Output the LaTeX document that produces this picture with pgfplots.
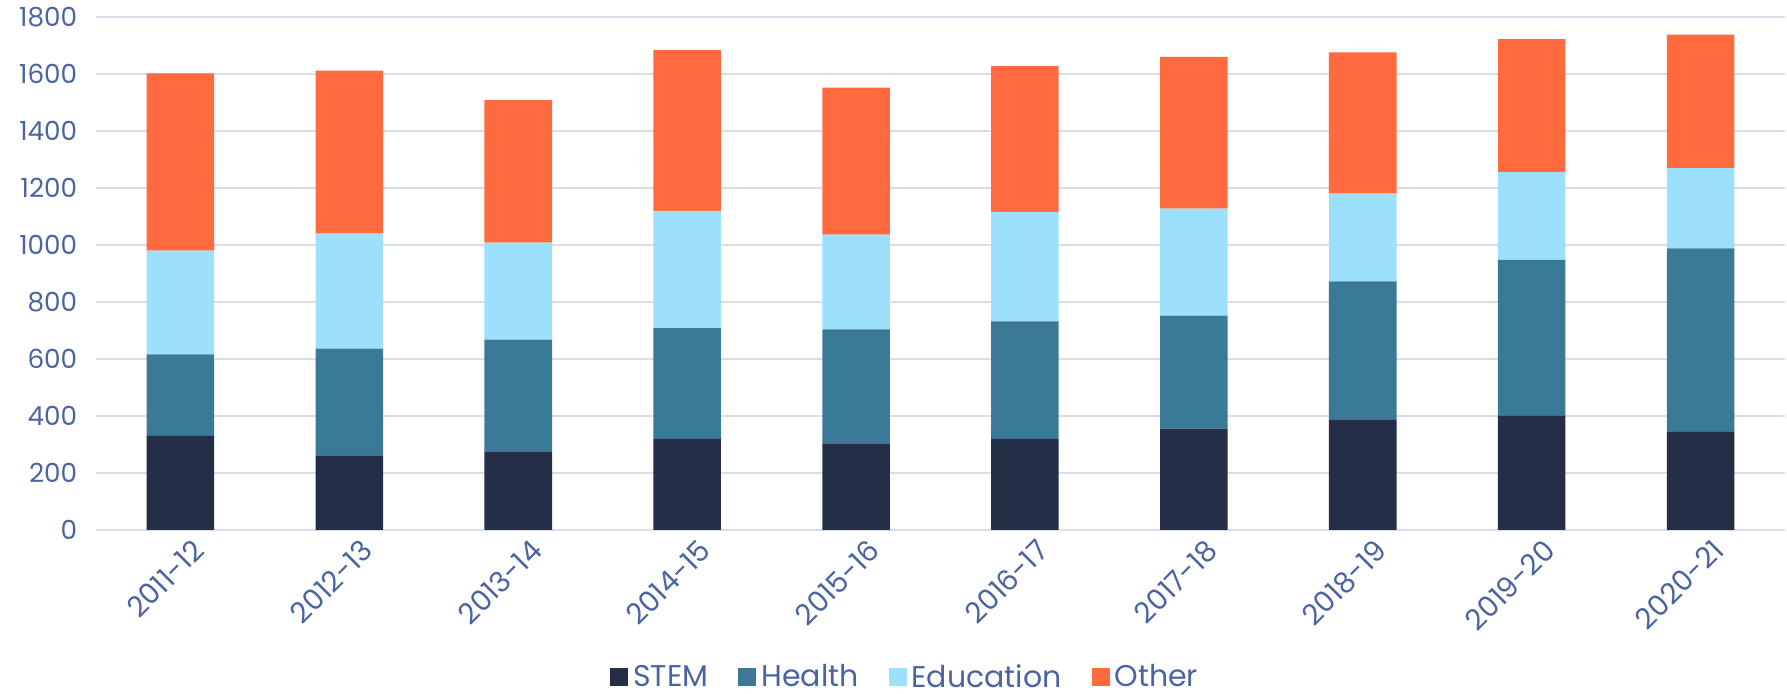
\documentclass[border=0pt]{standalone}
\usepackage{fontspec}
\setmainfont{Poppins}
\usepackage{pgfplots}
\pgfplotsset{compat=1.18}
\definecolor{cstem}{HTML}{242E47}
\definecolor{chealth}{HTML}{3A7A96}
\definecolor{cedu}{HTML}{9CE0FE}
\definecolor{cother}{HTML}{FF6B3E}
\definecolor{ctext}{HTML}{4B64A0}
\definecolor{cgrid}{HTML}{D9DDEA}
\begin{document}
\begin{tikzpicture}
\useasboundingbox (0,0) rectangle (714.8pt,277.6pt);
\begin{axis}[
  at={(38.4pt,65.6pt)}, anchor=south west,
  scale only axis, width=675.6pt, height=205.2pt,
  ybar stacked, bar width=0.4,
  xmin=-0.5, xmax=9.5, ymin=0, ymax=1800,
  ytick={0,200,...,1800},
  xtick={0,...,9},
  xticklabels={2011-12,2012-13,2013-14,2014-15,2015-16,2016-17,2017-18,2018-19,2019-20,2020-21},
  x tick label style={rotate=45, anchor=north east, font=\fontsize{11.5}{13}\selectfont, text=ctext, inner sep=1pt, yshift=-4pt, xshift=2pt},
  y tick label style={font=\fontsize{10.5}{12}\selectfont, text=ctext},
  /pgf/number format/assume math mode=true,
  /pgf/number format/1000 sep={},
  ymajorgrids, grid style={cgrid, line width=0.9pt},
  axis line style={draw=none},
  major tick length=0pt,
  yticklabel style={xshift=-4pt},
  legend columns=4,
  legend style={at={(0.480,0)}, anchor=center, yshift=-59pt, draw=none, font=\fontsize{12}{14}\selectfont, text=ctext, inner sep=1pt,
    /tikz/every even column/.append style={column sep=10pt}},
  legend image code/.code={\fill[#1] (0pt,-3.6pt) rectangle (7.2pt,3.6pt);},
]
\addplot[fill=cstem, draw=none] coordinates {(0,330) (1,262) (2,276) (3,320) (4,304) (5,320) (6,356) (7,388) (8,400) (9,344)};
\addplot[fill=chealth, draw=none] coordinates {(0,286) (1,374) (2,392) (3,388) (4,400) (5,412) (6,396) (7,484) (8,548) (9,644)};
\addplot[fill=cedu, draw=none] coordinates {(0,364) (1,404) (2,340) (3,412) (4,332) (5,384) (6,376) (7,308) (8,308) (9,282)};
\addplot[fill=cother, draw=none] coordinates {(0,622) (1,572) (2,500) (3,564) (4,516) (5,512) (6,532) (7,496) (8,466) (9,468)};
\legend{STEM,Health,Education,Other}
\end{axis}
\end{tikzpicture}
\end{document}
